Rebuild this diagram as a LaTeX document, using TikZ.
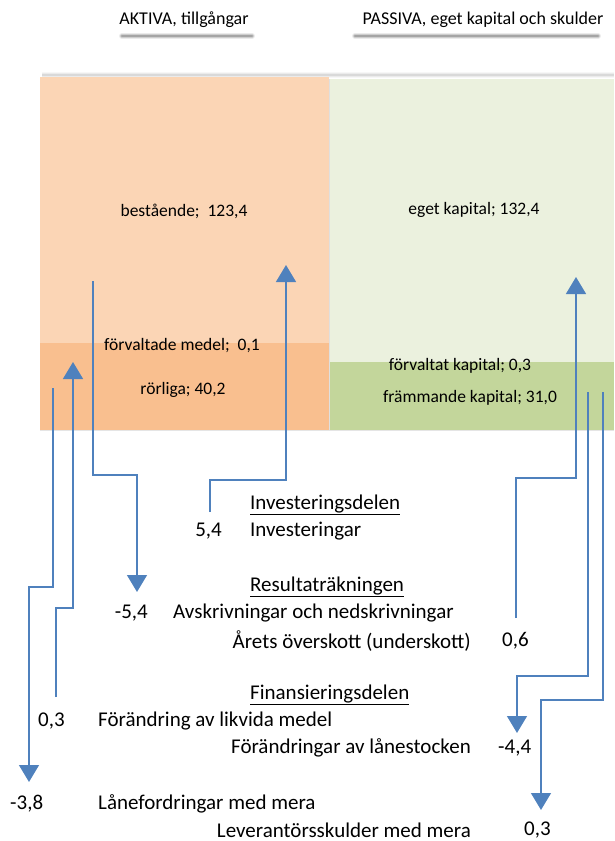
\documentclass[tikz,border=0pt]{standalone}
\usepackage{fontspec}
\setmainfont{Carlito}
\usetikzlibrary{arrows.meta}
\definecolor{peachlight}{HTML}{FBD5B5}
\definecolor{peachdark}{HTML}{F9BF8F}
\definecolor{greenlight}{HTML}{EBF1DE}
\definecolor{greendark}{HTML}{C3D69B}
\definecolor{flowblue}{HTML}{4F81BD}
\begin{document}
\begin{tikzpicture}[x=1pt,y=-1pt,
		flow/.style={flowblue,line width=1.4pt,-{Triangle[width=20pt,length=17pt]}},
		head/.style={inner sep=0pt,font=\fontsize{18}{21}\selectfont},
		boxlabel/.style={inner sep=0pt,font=\fontsize{17.5}{20}\selectfont},
		txt/.style={inner sep=0pt,font=\fontsize{21}{25}\selectfont}]
	\useasboundingbox (0,0) rectangle (614,841);
	
	% rubriker med skugga
	\foreach \w/\o in {6/0.08,4/0.12,2.5/0.2}{
		\draw[black,opacity=\o,line width=\w pt,line cap=round] (122,36) -- (252,36);
		\draw[black,opacity=\o,line width=\w pt,line cap=round] (355,36) -- (598,36);
		\draw[black,opacity=\o*0.4,line width=\w pt] (42,75) -- (614,75);
	}
	\node[head,fill=white,inner ysep=2pt] (aktiva) at (184,20) {AKTIVA, tillgångar};
	\node[head,fill=white,inner ysep=2pt] (passiva) at (483,20) {PASSIVA, eget kapital och skulder};
	
	% balansräkningen
	\fill[peachlight] (40,77) rectangle (329,343);
	\fill[peachdark] (40,343) rectangle (329,430);
	\fill[greenlight] (329,79) rectangle (614,362);
	\fill[greendark] (329,362) rectangle (614,430);
	\draw[gray!25,line width=0.8pt] (329,79) -- (329,430);
	\draw[gray!20,line width=0.8pt] (40,430.5) -- (614,430.5);
	
	\node[boxlabel] (bestaende) at (184,211) {bestående;\ \ 123,4};
	\node[boxlabel] (eget) at (474,210) {eget kapital; 132,4};
	\node[boxlabel] (forvmedel) at (182,346) {förvaltade medel;\ \ 0,1};
	\node[boxlabel] (rorliga) at (183,390) {rörliga; 40,2};
	\node[boxlabel] (forvkap) at (460,366) {förvaltat kapital; 0,3};
	\node[boxlabel] (frammande) at (470,398) {främmande kapital; 31,0};
	
	% kassaflödet
	\node[txt,anchor=west] (invdel) at (250,505) {\underline{Investeringsdelen}};
	\node[txt,anchor=east] (v54) at (222,531) {5,4};
	\node[txt,anchor=west] (inv) at (250,531) {Investeringar};
	\node[txt,anchor=west] (resdel) at (250,587) {\underline{Resultaträkningen}};
	\node[txt,anchor=east] (vm54) at (148,613) {-5,4};
	\node[txt,anchor=west] (avskr) at (173,613) {Avskrivningar och nedskrivningar};
	\node[txt,anchor=east] (overskott) at (471,641) {Årets överskott (underskott)};
	\node[txt,anchor=west] (v06) at (502,641) {0,6};
	\node[txt,anchor=west] (findel) at (250,695) {\underline{Finansieringsdelen}};
	\node[txt,anchor=west] (v03a) at (38,721) {0,3};
	\node[txt,anchor=west] (likvida) at (98,721) {Förändring av likvida medel};
	\node[txt,anchor=east] (lanestock) at (471,748) {Förändringar av lånestocken};
	\node[txt,anchor=west] (vm44) at (498,748) {-4,4};
	\node[txt,anchor=west] (vm38) at (10,804) {-3,8};
	\node[txt,anchor=west] (lanefordr) at (98,804) {Lånefordringar med mera};
	\node[txt,anchor=east] (leverant) at (471,830) {Leverantörsskulder med mera};
	\node[txt,anchor=west] (v03b) at (524,830) {0,3};
	
	% pilarnas ändpunkter
	\coordinate (avskrStart) at (93,281);
	\coordinate (avskrTip) at (137,592);
	\coordinate (invStart) at (210,512);
	\coordinate (invTip) at (286,265);
	\coordinate (lanefStart) at (53,388);
	\coordinate (lanefTip) at (29,782);
	\coordinate (likvStart) at (56,697);
	\coordinate (likvTip) at (73,362);
	\coordinate (overStart) at (516,618);
	\coordinate (overTip) at (576,277);
	\coordinate (lanestStart) at (588,392);
	\coordinate (lanestTip) at (517,733);
	\coordinate (leverStart) at (603,392);
	\coordinate (leverTip) at (541,810);
	
	\draw[flow] (avskrStart) |- (137,475) -- (avskrTip);
	\draw[flow] (invStart) |- (286,480) -- (invTip);
	\draw[flow] (lanefStart) |- (29,587) -- (lanefTip);
	\draw[flow] (likvStart) |- (73,608) -- (likvTip);
	\draw[flow] (overStart) |- (576,478) -- (overTip);
	\draw[flow] (lanestStart) |- (517,676) -- (lanestTip);
	\draw[flow] (leverStart) |- (541,700) -- (leverTip);
\end{tikzpicture}
\end{document}
